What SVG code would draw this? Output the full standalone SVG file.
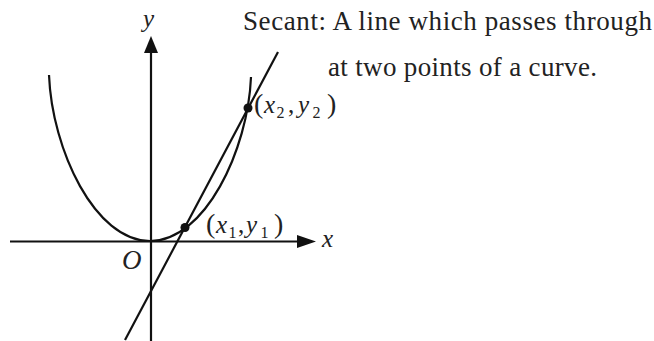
<svg xmlns="http://www.w3.org/2000/svg" width="654" height="341" viewBox="0 0 654 341">
<style>
.ax{stroke:#111;stroke-width:2.2;fill:none}
.cv{stroke:#111;stroke-width:2.2;fill:none}
.i{font-style:italic}
</style>
<rect width="654" height="341" fill="#fff"/>
<g id="axes">
<line class="ax" x1="10" y1="241.5" x2="302" y2="241.5"/>
<path d="M297,235 L316,241.5 L297,248 z" fill="#111"/>
<line class="ax" x1="151" y1="341" x2="151" y2="52"/>
<path d="M144,53 L151,36 L158,53 z" fill="#111"/>
</g>
<g id="curve">
<path class="cv" d="M49,75 C52,150 95,241 150,241 C205,241 248,150 251,77"/>
</g>
<g id="secant">
<line class="cv" x1="125" y1="340" x2="278" y2="52"/>
</g>
<g id="points">
<circle cx="185" cy="227.5" r="4.5" fill="#111"/>
<circle cx="248" cy="108" r="4.5" fill="#111"/>
</g>
<g id="labels" font-family="Liberation Serif" fill="#222">
<text class="i" x="143" y="27" font-size="25">y</text>
<text class="i" x="322" y="247" font-size="25">x</text>
<text class="i" x="122" y="269" font-size="27">O</text>
<text y="233" font-size="25"><tspan x="206" font-size="28">(</tspan><tspan class="i" x="216">x</tspan><tspan x="228.5" y="238" font-size="16">1</tspan><tspan x="238" y="233">,</tspan><tspan class="i" x="246">y</tspan><tspan x="260.5" y="238" font-size="16">1</tspan><tspan x="274" y="233" font-size="28">)</tspan></text>
<text y="113" font-size="25"><tspan x="254" font-size="28">(</tspan><tspan class="i" x="264">x</tspan><tspan x="276.5" y="118" font-size="16">2</tspan><tspan x="288" y="113">,</tspan><tspan class="i" x="298">y</tspan><tspan x="312.5" y="118" font-size="16">2</tspan><tspan x="327" y="113" font-size="28">)</tspan></text>
<text x="243" y="30" font-size="27" textLength="409" lengthAdjust="spacing">Secant: A line which passes through</text>
<text x="328" y="76" font-size="27" textLength="269" lengthAdjust="spacing">at two points of a curve.</text>
</g>
</svg>
